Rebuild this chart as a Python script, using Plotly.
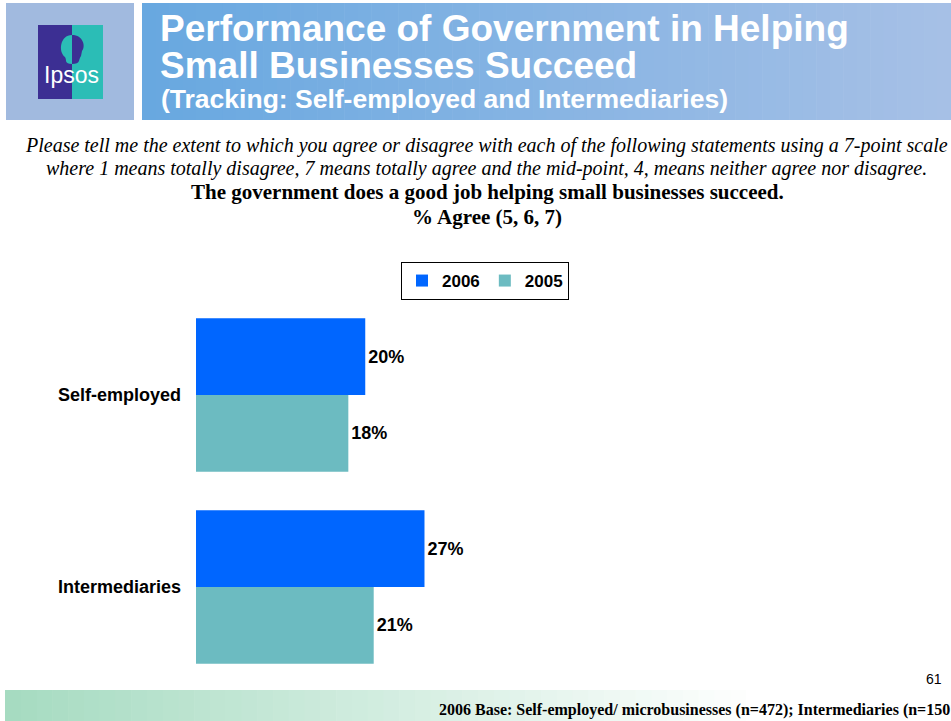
import plotly.graph_objects as go

# ---- data ----
categories = ["Self-employed", "Intermediaries"]
years = ["2006", "2005"]
values_2006 = [20, 27]
values_2005 = [18, 21]
bar_colors = {"2006": "#0066FF", "2005": "#6CBBC1"}

W, H = 951, 721


def px(x):
    return x / W


def py(y):
    return 1 - y / H


def hex_mix(c1, c2, t):
    a = [int(c1[i:i + 2], 16) for i in (1, 3, 5)]
    b = [int(c2[i:i + 2], 16) for i in (1, 3, 5)]
    return "#%02x%02x%02x" % tuple(round(a[k] + (b[k] - a[k]) * t) for k in range(3))


fig = go.Figure()
series = {"2006": values_2006, "2005": values_2005}
for yr in years:
    fig.add_trace(go.Bar(
        name=yr, y=categories, x=series[yr], orientation="h",
        marker=dict(color=bar_colors[yr], line=dict(width=0)),
        text=[f"{v}%" for v in series[yr]], textposition="outside",
        textfont=dict(family="Liberation Sans, Arial", size=18, color="black", weight="bold"),
        cliponaxis=False,
    ))

shapes = []
# header: left logo panel and gradient banner
shapes.append(dict(type="rect", xref="paper", yref="paper", x0=px(6), x1=px(134), y0=py(120), y1=py(3),
                   fillcolor="#a1badf", line=dict(width=0), layer="below"))
n = 60
x_start, x_end = 142, 951
for i in range(n):
    xa = x_start + (x_end - x_start) * i / n
    xb = x_start + (x_end - x_start) * (i + 1) / n + 0.6
    shapes.append(dict(type="rect", xref="paper", yref="paper", x0=px(xa), x1=px(min(xb, W)),
                       y0=py(120), y1=py(3), fillcolor=hex_mix("#68a8e0", "#a6c0e6", i / (n - 1)),
                       line=dict(width=0), layer="below"))
# logo
shapes.append(dict(type="rect", xref="paper", yref="paper", x0=px(38), x1=px(72), y0=py(99), y1=py(25),
                   fillcolor="#3c2f93", line=dict(width=0)))
shapes.append(dict(type="rect", xref="paper", yref="paper", x0=px(72), x1=px(103), y0=py(99), y1=py(25),
                   fillcolor="#2bbdb6", line=dict(width=0)))
# head silhouette in the logo (two mirrored halves)
head = ("M {a},{b} C {c},{d} {e},{f} {g},{h} C {i},{j} {k},{l} {m},{n} Z").format(
    a=px(72), b=py(35), c=px(60), d=py(35), e=px(58), f=py(52), g=px(65), h=py(57),
    i=px(67), j=py(60), k=px(64), l=py(64), m=px(72), n=py(64))
shapes.append(dict(type="path", xref="paper", yref="paper", path=head, fillcolor="#2bbdb6",
                   line=dict(width=0)))
head2 = ("M {a},{b} C {c},{d} {e},{f} {g},{h} L {i},{j} C {k},{l} {m},{n} {o},{p} Z").format(
    a=px(72), b=py(35), c=px(83), d=py(35), e=px(86), f=py(46), g=px(82), h=py(51),
    i=px(81), j=py(56), k=px(78), l=py(60), m=px(81), n=py(64), o=px(72), p=py(64))
shapes.append(dict(type="path", xref="paper", yref="paper", path=head2, fillcolor="#3c2f93",
                   line=dict(width=0)))
# footer gradient strip
fx0, fx1 = 5, 951
for i in range(n):
    xa = fx0 + (fx1 - fx0) * i / n
    xb = fx0 + (fx1 - fx0) * (i + 1) / n + 0.6
    t = min(1.0, (i / (n - 1)) / 0.8)
    shapes.append(dict(type="rect", xref="paper", yref="paper", x0=px(xa), x1=px(min(xb, W)),
                       y0=py(721), y1=py(690), fillcolor=hex_mix("#a6dbc1", "#ffffff", t),
                       line=dict(width=0), layer="below"))

ann = []
arial_b = dict(family="Liberation Sans, Arial", color="white", weight="bold")
ann.append(dict(text="Ipsos", x=px(71), y=py(75), xref="paper", yref="paper", showarrow=False,
                xanchor="center", yanchor="middle",
                font=dict(family="Liberation Sans Narrow, Liberation Sans, Arial", size=23, color="white")))
ann.append(dict(text="Performance of Government in Helping", x=px(158), y=py(29), xref="paper",
                yref="paper", showarrow=False, xanchor="left", yanchor="middle",
                font=dict(arial_b, size=37)))
ann.append(dict(text="Small Businesses Succeed", x=px(158), y=py(66), xref="paper",
                yref="paper", showarrow=False, xanchor="left", yanchor="middle",
                font=dict(arial_b, size=37)))
ann.append(dict(text="(Tracking: Self-employed and Intermediaries)", x=px(159), y=py(99), xref="paper",
                yref="paper", showarrow=False, xanchor="left", yanchor="middle",
                font=dict(arial_b, size=26.5)))

serif_i = dict(family="Liberation Serif, Times New Roman", size=20, color="black", style="italic")
serif_b = dict(family="Liberation Serif, Times New Roman", size=21, color="black", weight="bold")
ann.append(dict(text="Please tell me the extent to which you agree or disagree with each of the following statements using a 7-point scale",
                x=px(486), y=py(145), xref="paper", yref="paper", showarrow=False,
                xanchor="center", yanchor="middle", font=serif_i))
ann.append(dict(text="where 1 means totally disagree, 7 means totally agree and the mid-point, 4, means neither agree nor disagree.",
                x=px(486), y=py(168), xref="paper", yref="paper", showarrow=False,
                xanchor="center", yanchor="middle", font=serif_i))
ann.append(dict(text="The government does a good job helping small businesses succeed.",
                x=px(487), y=py(192), xref="paper", yref="paper", showarrow=False,
                xanchor="center", yanchor="middle", font=serif_b))
ann.append(dict(text="% Agree (5, 6, 7)",
                x=px(487), y=py(217), xref="paper", yref="paper", showarrow=False,
                xanchor="center", yanchor="middle", font=serif_b))
ann.append(dict(text="61", x=px(944), y=py(679), xref="paper", yref="paper", showarrow=False,
                xanchor="right", yanchor="middle",
                font=dict(family="Liberation Sans, Arial", size=14, color="black")))
ann.append(dict(text="2006 Base: Self-employed/ microbusinesses (n=472); Intermediaries (n=150",
                x=px(952), y=py(710), xref="paper", yref="paper", showarrow=False,
                xanchor="right", yanchor="middle",
                font=dict(family="Liberation Serif, Times New Roman", size=16, color="black", weight="bold")))

fig.update_layout(
    width=W, height=H, margin=dict(l=0, r=0, t=0, b=0),
    paper_bgcolor="white", plot_bgcolor="white",
    barmode="group", bargap=0.2, bargroupgap=0,
    showlegend=True,
    legend=dict(orientation="h", x=px(485), y=py(262), xanchor="center", yanchor="top",
                bordercolor="black", borderwidth=1, bgcolor="white",
                font=dict(family="Liberation Sans, Arial", size=17, color="black", weight="bold"),
                itemwidth=30, traceorder="normal", tracegroupgap=0),
    xaxis=dict(domain=[px(196), px(873)], range=[0, 80], visible=False),
    yaxis=dict(domain=[py(683), py(299)], autorange="reversed", showgrid=False, zeroline=False,
               showline=False, ticks="", ticklabelstandoff=14,
               tickfont=dict(family="Liberation Sans, Arial", size=18, color="black", weight="bold")),
    shapes=shapes, annotations=ann,
)

fig.write_html("out.html")
